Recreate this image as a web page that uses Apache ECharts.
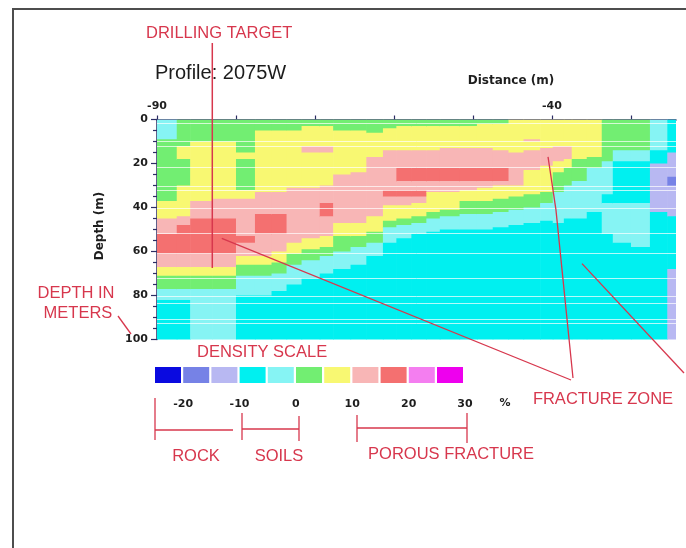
<!DOCTYPE html>
<html>
<head>
<meta charset="utf-8">
<script src="https://cdn.jsdelivr.net/npm/echarts@6/dist/echarts.min.js"></script>
<style>
  html, body { margin: 0; padding: 0; background: #fff; }
  #chart { width: 686px; height: 548px; }
</style>
</head>
<body>
<div id="chart"></div>
<script>
// Column boundaries of the resistivity section, distance in metres
const columnEdges = [-90, -87.5, -85.8, -83, -80, -77.6, -75.5, -73.6, -71.7, -69.4, -67.7,
  -65.5, -63.5, -61.4, -59.7, -57.8, -55.9, -54.2, -51.7, -49.5, -47.5, -45.5, -43.6,
  -41.5, -39.9, -38.5, -37.5, -35.6, -33.7, -32.3, -30, -27.6, -25.4, -24.3];

// Layers of each column from the surface down: density class code + bottom depth (m)
const columnLayers = [
  "c9 g37 y45 p52 r61 p67 y71 g77 c82 C100",
  "g12 y18 g30 y44 p48 r61 p67 y71 g77 c82 C100",
  "g10 y37 p45 r61 p67 y71 g77 c100",
  "g10 y36 p45 r61 p67 y71 g77 c100",
  "g15 y18 g32 y36 p53 r56 p62 y66 g71 c80 C100",
  "g5 y33 p43 r52 p62 y66 g71 c80 C100",
  "g5 y33 p43 r52 p60 y65 g70 c78 C100",
  "g5 y31 p56 y61 g66 c75 C100",
  "g3 y12 p15 y31 p54 y59 g64 c72 C100",
  "g3 y12 p15 y30 p38 r44 p53 y58 g62 c70 C100",
  "g5 y25 p47 y53 g60 c68 C100",
  "g5 y24 p47 y53 g58 c66 C100",
  "g6 y17 p44 y51 g56 c62 C100",
  "g4 y14 p32 r35 p39 y46 g49 c56 C100",
  "g3 y14 p22 r28 p32 r35 p39 y45 g48 c54 C100",
  "g3 y14 p22 r28 p32 r35 p38 y44 g47 c52 C100",
  "g3 y14 p22 r28 p33 y42 g45 c51 C100",
  "g3 y13 p22 r28 p33 y41 g44 c50 C100",
  "g3 y13 p22 r28 p32 y37 g43 c50 C100",
  "g2 y13 p22 r28 p31 y37 g43 c50 C100",
  "g2 y14 p22 r28 p30 y36 g42 c49 C100",
  "y15 p30 y35 g41 c48 C100",
  "y9 p10 y14 p23 y34 g40 c47 C100",
  "y13 p21 y33 g38 c46 C100",
  "y12 p19 y24 g33 c47 C100",
  "y12 p18 y22 g30 c45 C100",
  "y18 g28 c45 C100",
  "y17 g22 c42 C100",
  "g19 c34 C38 c52 C100",
  "g14 c19 C38 c56 C100",
  "g14 c19 C38 c58 C100",
  "c14 C20 l42 C100",
  "C15 l26 b30 l44 C68 l100"
];

// Density contrast (%) represented by each class code (class centre)
const classDensity = { B: -22.5, b: -17.5, l: -12.5, C: -7.5, c: -2.5, g: 2.5, y: 7.5, p: 12.5, r: 17.5, m: 22.5, M: 27.5 };

// Density scale: class limits (%) and colours
const scaleBreaks = [-25, -20, -15, -10, -5, 0, 5, 10, 15, 20, 25, 30];
const scaleColors = ['#0a0ae0', '#7682e6', '#b8b8f2', '#00f0f0', '#86f4f4', '#72ee72',
  '#f8f872', '#f8b6b6', '#f47070', '#f47ef0', '#ee00ee'];
const scaleLabels = [-20, -10, 0, 10, 20, 30];

// Depths (m) of the thin white rules separating the survey passes
const passRuleDepths = [1.7, 9.8, 12, 21.6, 30.5, 32, 40.4, 51.9, 61, 72.2, 80.5, 83.5, 90.7, 92.6];

// Axis ticks
const distanceTicks = [-90, -80, -70, -60, -50, -40, -30];
const distanceLabels = [-90, -40];
const distanceMax = -24.3;

const RED = '#d7374d';
const AXIS = '#2c2c64';

// Expand the layer strings into rectangles [x0, x1, top, bottom, density]
const cells = [];
columnLayers.forEach((col, i) => {
  let top = 0;
  col.split(' ').forEach(tok => {
    const bottom = parseFloat(tok.slice(1));
    cells.push([columnEdges[i], columnEdges[i + 1], top, bottom, classDensity[tok[0]]]);
    top = bottom;
  });
});

const pieces = scaleColors.map((color, i) => ({ min: scaleBreaks[i], max: scaleBreaks[i + 1], color }));

const chart = echarts.init(document.getElementById('chart'), null, { renderer: 'canvas' });

const labelFont = { fontFamily: 'DejaVu Sans', fontWeight: 'bold', fontSize: 11, color: '#1e1e1e' };

chart.setOption({
  animation: false,
  backgroundColor: '#fff',
  grid: [
    { left: 157, top: 119.5, width: 519, height: 220 },
    { left: 155, top: 396, width: 310, height: 1 }
  ],
  xAxis: [
    {
      type: 'value', gridIndex: 0, position: 'top', min: -90, max: distanceMax,
      axisLine: { lineStyle: { color: AXIS, width: 1.5 } },
      axisTick: { customValues: distanceTicks, length: 4, lineStyle: { color: AXIS, width: 1.2 } },
      axisLabel: Object.assign({ customValues: distanceLabels, margin: 8 }, labelFont),
      splitLine: { show: false }
    },
    {
      type: 'value', gridIndex: 1, min: -25, max: 30,
      axisLine: { show: false }, axisTick: { show: false }, splitLine: { show: false },
      axisLabel: Object.assign({ customValues: scaleLabels, margin: 2 }, labelFont)
    }
  ],
  yAxis: [
    {
      type: 'value', gridIndex: 0, inverse: true, min: 0, max: 100, interval: 20,
      axisLine: { lineStyle: { color: AXIS, width: 1.5 } },
      axisTick: { length: 6, lineStyle: { color: AXIS, width: 1.2 } },
      minorTick: { show: true, splitNumber: 4, length: 4, lineStyle: { color: AXIS, width: 1.2 } },
      axisLabel: Object.assign({ margin: 9 }, labelFont),
      splitLine: { show: false }
    },
    { type: 'value', gridIndex: 1, show: false, min: 0, max: 1 }
  ],
  visualMap: {
    type: 'piecewise', seriesIndex: 0, dimension: 4, pieces,
    orient: 'horizontal', left: 155, top: 367, padding: 0,
    itemWidth: 26, itemHeight: 16, itemGap: 2.2, itemSymbol: 'rect',
    showLabel: false, selectedMode: false, hoverLink: false
  },
  series: [{
    type: 'custom',
    coordinateSystem: 'cartesian2d',
    xAxisIndex: 0, yAxisIndex: 0,
    clip: true,
    encode: { x: [0, 1], y: [2, 3] },
    data: cells,
    renderItem(params, api) {
      const p0 = api.coord([api.value(0), api.value(2)]);
      const p1 = api.coord([api.value(1), api.value(3)]);
      return {
        type: 'rect',
        shape: { x: p0[0], y: p0[1], width: p1[0] - p0[0] + 0.6, height: p1[1] - p0[1] + 0.6 },
        style: { fill: api.visual('color') }
      };
    },
    markLine: {
      silent: true, symbol: 'none', label: { show: false },
      lineStyle: { color: '#ffffff', width: 1, type: 'solid', opacity: 0.7 },
      data: passRuleDepths.map(d => ({ yAxis: d }))
    }
  }]
});

// Annotations: anchors inside the section are given in (distance, depth)
const px = (x, d) => chart.convertToPixel({ gridIndex: 0 }, [x, d]);
const redText = (text, x, y, align) => ({
  type: 'text', x, y, silent: true, z: 100,
  style: { text, fill: RED, font: '16.5px "Liberation Sans"', align: align || 'left', verticalAlign: 'middle' }
});
const redLine = (pts, w) => ({
  type: 'polyline', silent: true, z: 100,
  shape: { points: pts },
  style: { stroke: RED, lineWidth: w || 1.3, fill: null }
});

const drillTop = px(-83, 0);
const drillBottom = px(-83, 67.5);
const zoneA = px(-81.8, 54);
const zoneB1 = px(-40.5, 17);
const zoneB2 = px(-39.5, 41);
const zoneC = px(-36.2, 65.5);

chart.setOption({
  graphic: [
    { type: 'rect', silent: true, z: 100, shape: { x: 13, y: 9, width: 700, height: 560 },
      style: { fill: null, stroke: '#4d4d4d', lineWidth: 2 } },
    redText('DRILLING TARGET', 146, 33),
    { type: 'text', x: 155, y: 73, silent: true, z: 100,
      style: { text: 'Profile: 2075W', fill: '#1c1c1c', font: '20px "Liberation Sans"', verticalAlign: 'middle' } },
    { type: 'text', x: 511, y: 81, silent: true, z: 100,
      style: { text: 'Distance (m)', fill: '#1e1e1e', font: 'bold 12px "DejaVu Sans"', align: 'center', verticalAlign: 'middle' } },
    { type: 'text', x: 100, y: 226, rotation: Math.PI / 2, silent: true, z: 100,
      style: { text: 'Depth (m)', fill: '#1e1e1e', font: 'bold 12px "DejaVu Sans"', align: 'center', verticalAlign: 'middle' } },
    redLine([[drillTop[0], 43], drillBottom], 1.5),
    redText('DEPTH IN', 76, 293, 'center'),
    redText('METERS', 78, 313, 'center'),
    redLine([[118, 316], [131, 334]]),
    redText('DENSITY SCALE', 197, 352),
    { type: 'text', x: 505, y: 403, silent: true, z: 100,
      style: { text: '%', fill: '#1e1e1e', font: 'bold 11px "DejaVu Sans"', align: 'center', verticalAlign: 'middle' } },
    redLine([[155, 398], [155, 440]]),
    redLine([[155, 430], [233, 430]]),
    redLine([[242, 413], [242, 440]]),
    redLine([[242, 429], [299, 429]]),
    redLine([[299, 416], [299, 441]]),
    redLine([[357, 415], [357, 442]]),
    redLine([[357, 428], [467, 428]]),
    redLine([[467, 413], [467, 443]]),
    redText('ROCK', 196, 456, 'center'),
    redText('SOILS', 279, 456, 'center'),
    redText('POROUS FRACTURE', 451, 454, 'center'),
    redText('FRACTURE ZONE', 603, 399, 'center'),
    redLine([zoneA, [571, 380]]),
    redLine([zoneB1, zoneB2, [573, 378]]),
    redLine([zoneC, [684, 373]])
  ]
});
</script>
</body>
</html>
